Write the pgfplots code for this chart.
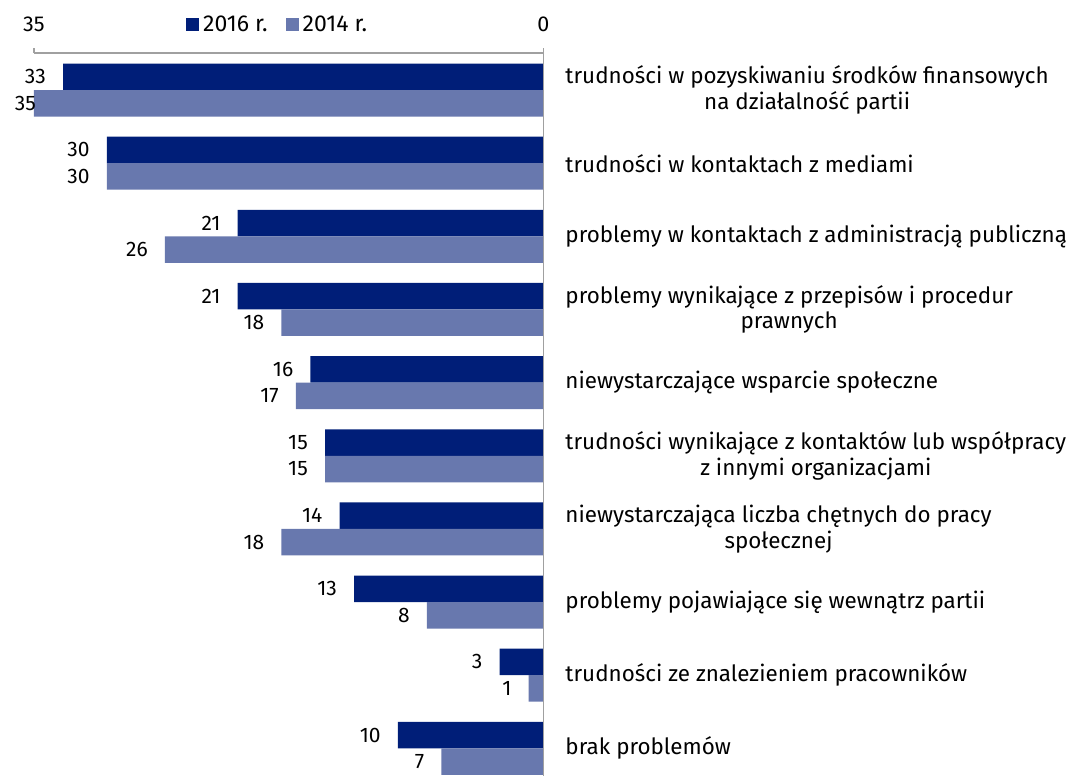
\documentclass[border=0pt]{standalone}
\usepackage{pgfplots}
\pgfplotsset{compat=1.18}
\usepackage{pgfplotstable}
\usepackage{fontspec}
\setmainfont{Fira Sans}
\definecolor{darkbar}{RGB}{0,30,120}
\definecolor{lightbar}{RGB}{104,120,174}
\definecolor{axgray}{RGB}{160,160,160}

\pgfplotstableread{
idx a b oa ob
0 33 35 17 -2
1 30 30 17 17
2 21 26 17 17
3 21 18 17 17
4 16 17 17 17
5 15 15 17 17
6 14 18 17 17
7 13 8 17 17
8 3 1 17 17
9 10 7 17 17
}\datatable

\begin{document}
\begin{tikzpicture}
\begin{axis}[
  at={(34pt,-53pt)}, anchor=north west,
  scale only axis, width=509.3pt, height=723pt,
  xmin=0, xmax=35, x dir=reverse,
  ymin=-0.506, ymax=9.378, y dir=reverse,
  axis line style={draw=none},
  xtick=\empty, ytick=\empty,
  clip=false,
  xbar, bar width=0.362,
  point meta=x,
  nodes near coords={\pgfmathprintnumber[assume math mode=true]{\pgfplotspointmeta}},
  nodes near coords style={anchor=east, font=\fontsize{21}{25}\selectfont, text=black, inner sep=0pt},
  legend columns=2,
  legend style={draw=none, fill=none, at={(axis description cs:0.2985,1.0394)}, anchor=west,
    inner sep=0pt, font=\fontsize{23}{26}\selectfont,
    nodes={inner sep=0pt, anchor=west},
    /tikz/every odd column/.append style={column sep=4pt},
    /tikz/every even column/.append style={column sep=18pt}},
  legend image code/.code={\fill[#1] (0pt,-6pt) rectangle (13pt,6.5pt);},
]
\addplot[draw=none, fill=darkbar, bar shift=-0.181,
  visualization depends on={\thisrow{oa} \as \myoff},
  every node near coord/.append style={xshift=-\myoff pt}]
  table[x=a, y=idx] {\datatable};
\addlegendentry{2016 r.}
\addplot[draw=none, fill=lightbar, bar shift=0.181,
  visualization depends on={\thisrow{ob} \as \myoff},
  every node near coord/.append style={xshift=-\myoff pt}]
  table[x=b, y=idx] {\datatable};
\addlegendentry{2014 r.}

\draw[axgray, line width=1.2pt] (axis cs:35,-0.506) -- (axis cs:0,-0.506);
\draw[axgray, line width=1.2pt] ([yshift=5pt]axis cs:35,-0.506) -- (axis cs:35,-0.506);
\draw[axgray, line width=1.2pt] ([yshift=5pt]axis cs:0,-0.506) -- (axis cs:0,9.378);
\node[font=\fontsize{21.5}{25}\selectfont, yshift=28.5pt] at (axis cs:35,-0.506) {35};
\node[font=\fontsize{21.5}{25}\selectfont, yshift=28.5pt] at (axis cs:0,-0.506) {0};

\begin{scope}[every node/.style={anchor=west, align=center, xshift=22pt, inner sep=0pt, font=\fontsize{22.4}{25.5}\selectfont}]
\node at (axis cs:0,0) {trudności w pozyskiwaniu środków finansowych\\na działalność partii};
\node at (axis cs:0,1) {trudności w kontaktach z mediami};
\node at (axis cs:0,2) {problemy w kontaktach z administracją publiczną};
\node at (axis cs:0,3) {problemy wynikające z przepisów i procedur\\prawnych};
\node at (axis cs:0,4) {niewystarczające wsparcie społeczne};
\node at (axis cs:0,5) {trudności wynikające z kontaktów lub współpracy\\z innymi organizacjami};
\node at (axis cs:0,6) {niewystarczająca liczba chętnych do pracy\\społecznej};
\node at (axis cs:0,7) {problemy pojawiające się wewnątrz partii};
\node at (axis cs:0,8) {trudności ze znalezieniem pracowników};
\node at (axis cs:0,9) {brak problemów};
\end{scope}
\end{axis}
\pgfresetboundingbox
\useasboundingbox (0,0) rectangle (1076pt,-776pt);
\end{tikzpicture}
\end{document}
